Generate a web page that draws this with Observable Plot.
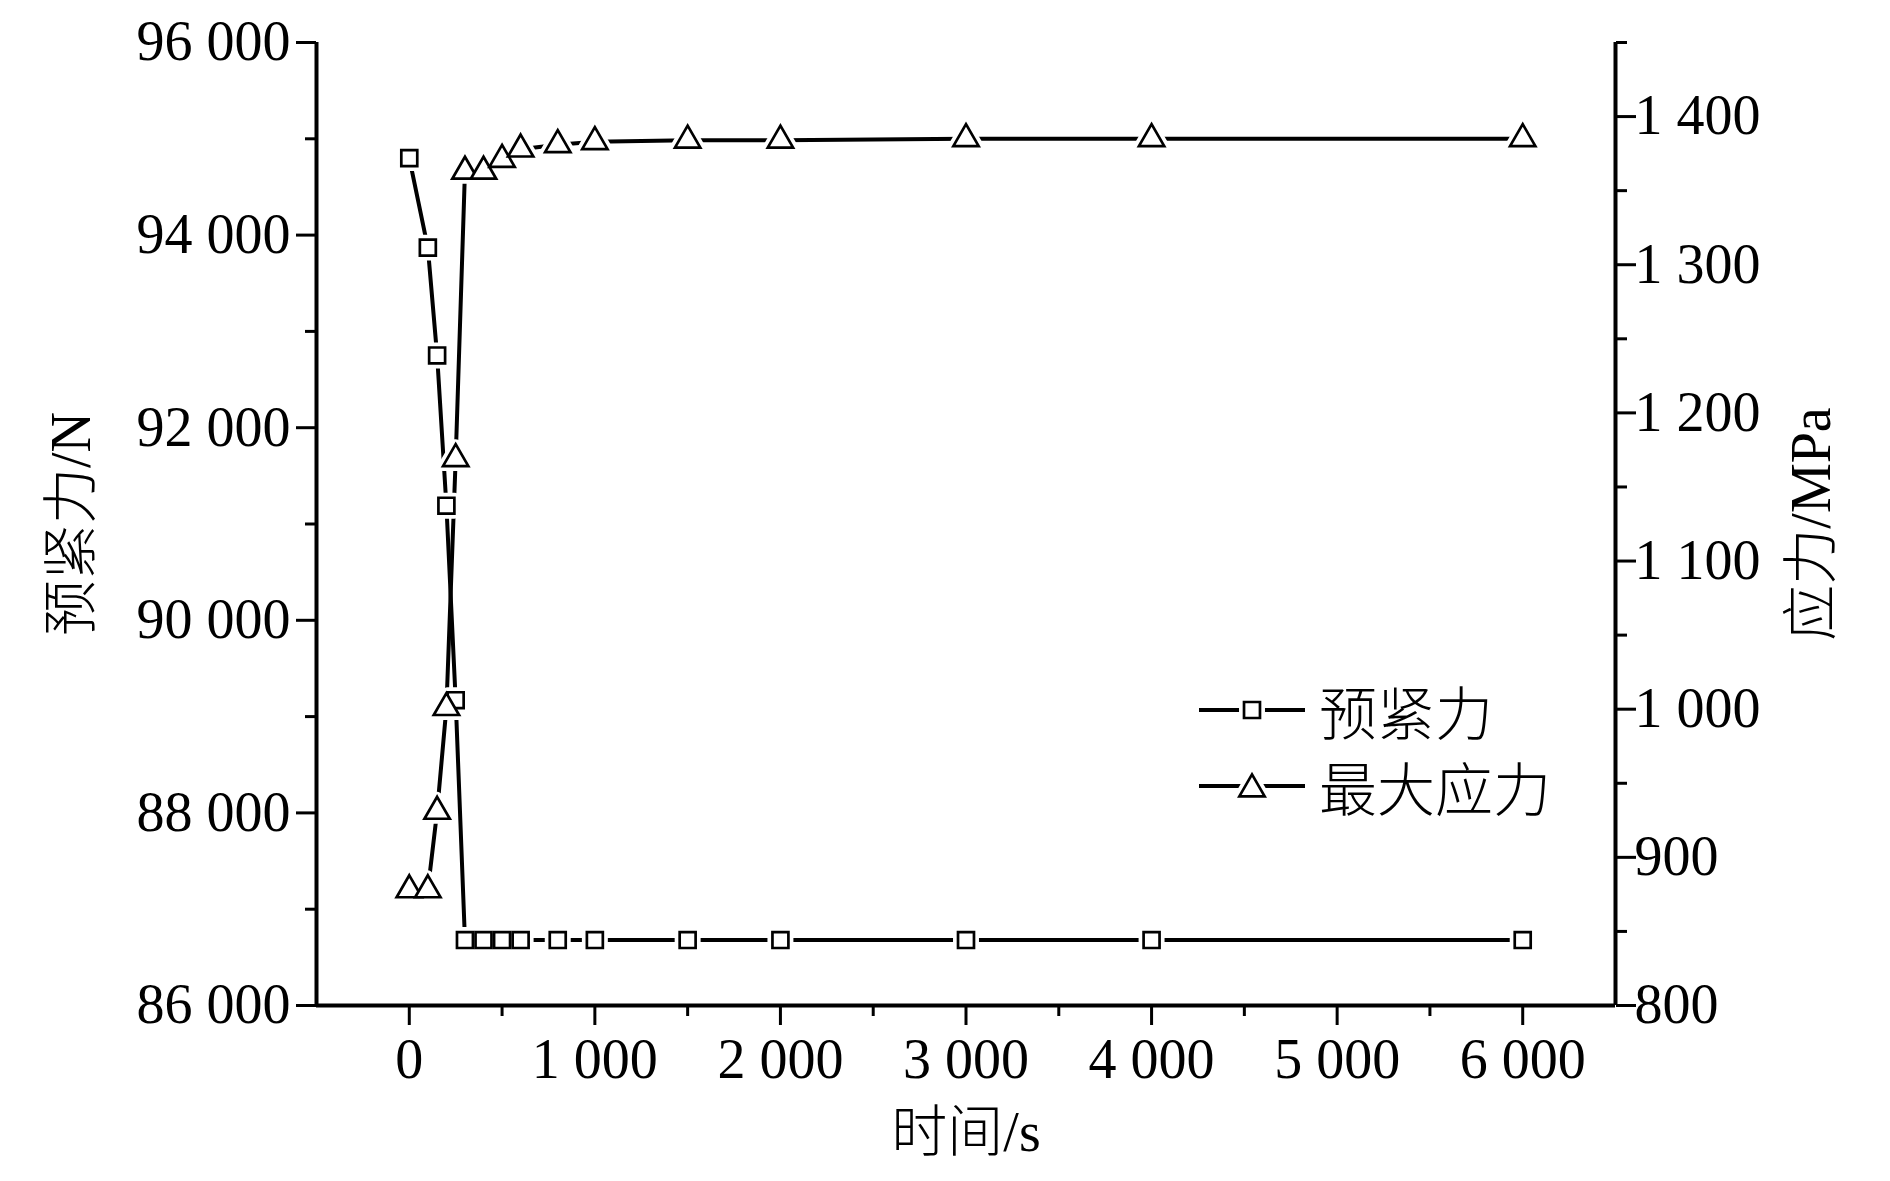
<!DOCTYPE html>
<html>
<head>
<meta charset="utf-8">
<script src="https://cdn.jsdelivr.net/npm/d3@7"></script>
<script src="https://cdn.jsdelivr.net/npm/@observablehq/plot@0.6"></script>
<style>
  html, body { margin: 0; padding: 0; background: #fff; }
  #wrap { position: relative; width: 1890px; height: 1181px; }
  #legend { position: absolute; left: 1197px; top: 672px; font-family: "Liberation Serif", "Noto Sans CJK SC", serif; font-size: 58px; font-weight: 300; color: #000; }
  #legend .row { display: flex; align-items: center; height: 76px; }
  #legend svg { display: block; margin-right: 12px; }
</style>
</head>
<body>
<div id="wrap"><div id="chart"></div><div id="legend"></div></div>
<script>
// ---- data ----
const time = [0, 100, 150, 200, 250, 300, 400, 500, 600, 800, 1000, 1500, 2000, 3000, 4000, 6000];
const preload = [94800, 93870, 92750, 91190, 89170, 86680, 86680, 86680, 86680, 86680, 86680, 86680, 86680, 86680, 86680, 86680];
const stress = [878, 878, 931, 1001, 1169, 1363, 1363, 1371, 1378, 1381, 1383, 1384, 1384, 1385, 1385, 1385];
const seriesNames = ["预紧力", "最大应力"];
const xTitle = "时间/s";
const leftTitle = "预紧力/N";
const rightTitle = "应力/MPa";

const xDomain = [-500, 6500];
const xTicks = [0, 1000, 2000, 3000, 4000, 5000, 6000];
const xMinorTicks = [500, 1500, 2500, 3500, 4500, 5500];
const leftDomain = [86000, 96000];
const leftTicks = [86000, 88000, 90000, 92000, 94000, 96000];
const leftMinorTicks = [87000, 89000, 91000, 93000, 95000];
const rightDomain = [800, 1450];
const rightTicks = [800, 900, 1000, 1100, 1200, 1300, 1400];
const rightMinorTicks = [850, 950, 1050, 1150, 1250, 1350, 1450];

// ---- helpers ----
const toLeft = d3.scaleLinear(rightDomain, leftDomain);
const fmt = v => d3.format(",")(v).replace(/,/g, " ");
const data = time.map((t, i) => ({t, p: preload[i], s: stress[i], sy: toLeft(stress[i])}));

const FONT = '"Liberation Serif", "Noto Sans CJK SC", serif';
const FS = 56;     // tick label size
const LW = 4;      // line width
const MW = 2.7;    // marker stroke
const sqR = 9;
const triR = 9.4;

const chart = Plot.plot({
  width: 1890,
  height: 1181,
  marginLeft: 316,
  marginRight: 275,
  marginTop: 42,
  marginBottom: 176,
  x: {domain: xDomain},
  y: {domain: leftDomain},
  style: {fontFamily: FONT, background: "white", color: "black", overflow: "visible"},
  marks: [
    // axes ticks & labels
    Plot.axisX(xTicks, {tickSize: 20, tickPadding: 13, strokeWidth: 3, fontSize: FS, tickFormat: fmt, label: null}),
    Plot.axisX(xMinorTicks, {tickSize: 11, strokeWidth: 3, tickFormat: () => "", label: null}),
    Plot.axisY(leftTicks, {anchor: "left", tickSize: 20, tickPadding: 6, strokeWidth: 3, fontSize: FS, tickFormat: fmt, label: null}),
    Plot.axisY(leftMinorTicks, {anchor: "left", tickSize: 11, strokeWidth: 3, tickFormat: () => "", label: null}),
    Plot.axisY(rightTicks.map(toLeft), {anchor: "right", tickSize: 20, tickPadding: -1, strokeWidth: 3, fontSize: FS,
      tickFormat: v => fmt(Math.round(toLeft.invert(v))), label: null}),
    Plot.axisY(rightMinorTicks.map(toLeft), {anchor: "right", tickSize: 11, strokeWidth: 3, tickFormat: () => "", label: null}),
    // axis lines
    Plot.ruleX([xDomain[0], xDomain[1]], {strokeWidth: LW}),
    Plot.ruleY([leftDomain[0]], {strokeWidth: LW}),
    // axis titles
    Plot.text([leftTitle], {text: d => d, frameAnchor: "left", dx: -244, rotate: -90, fontSize: 56, fontWeight: 300, textAnchor: "middle", lineAnchor: "middle"}),
    Plot.text([rightTitle], {text: d => d, frameAnchor: "right", dx: 197, rotate: -90, fontSize: 56, fontWeight: 300, textAnchor: "middle", lineAnchor: "middle"}),
    Plot.text([xTitle], {text: d => d, frameAnchor: "bottom", dy: 128, fontSize: 56, fontWeight: 300, textAnchor: "middle", lineAnchor: "middle"}),
    // series lines
    Plot.line(data, {x: "t", y: "p", stroke: "black", strokeWidth: LW}),
    Plot.line(data, {x: "t", y: "sy", stroke: "black", strokeWidth: LW}),
    // white halos (gaps around symbols)
    Plot.dot(data, {x: "t", y: "p", symbol: "square", r: sqR, fill: "white", stroke: "white", strokeWidth: 10, strokeLinejoin: "round"}),
    Plot.dot(data, {x: "t", y: "sy", symbol: "triangle", r: triR, fill: "white", stroke: "white", strokeWidth: 10, strokeLinejoin: "round"}),
    // symbols
    Plot.dot(data, {x: "t", y: "p", symbol: "square", r: sqR, fill: "white", stroke: "black", strokeWidth: MW}),
    Plot.dot(data, {x: "t", y: "sy", symbol: "triangle", r: triR, fill: "white", stroke: "black", strokeWidth: MW})
  ]
});
document.getElementById("chart").appendChild(chart);

// ---- legend ----
const legend = d3.select("#legend");
const symbols = [d3.symbolSquare, d3.symbolTriangle];
const sizes = [sqR * sqR * Math.PI, triR * triR * Math.PI];
seriesNames.forEach((name, i) => {
  const row = legend.append("div").attr("class", "row");
  const svg = row.append("svg").attr("width", 110).attr("height", 40);
  svg.append("line").attr("x1", 2).attr("x2", 108).attr("y1", 20).attr("y2", 20)
    .attr("stroke", "black").attr("stroke-width", LW);
  const dy = i === 1 ? 3 : 0;
  svg.append("path").attr("d", d3.symbol(symbols[i], sizes[i])())
    .attr("transform", `translate(55,${20 + dy})`)
    .attr("fill", "white").attr("stroke", "white").attr("stroke-width", 10).attr("stroke-linejoin", "round");
  svg.append("path").attr("d", d3.symbol(symbols[i], sizes[i])())
    .attr("transform", `translate(55,${20 + dy})`)
    .attr("fill", "white").attr("stroke", "black").attr("stroke-width", MW);
  row.append("span").text(name);
});
</script>
</body>
</html>
